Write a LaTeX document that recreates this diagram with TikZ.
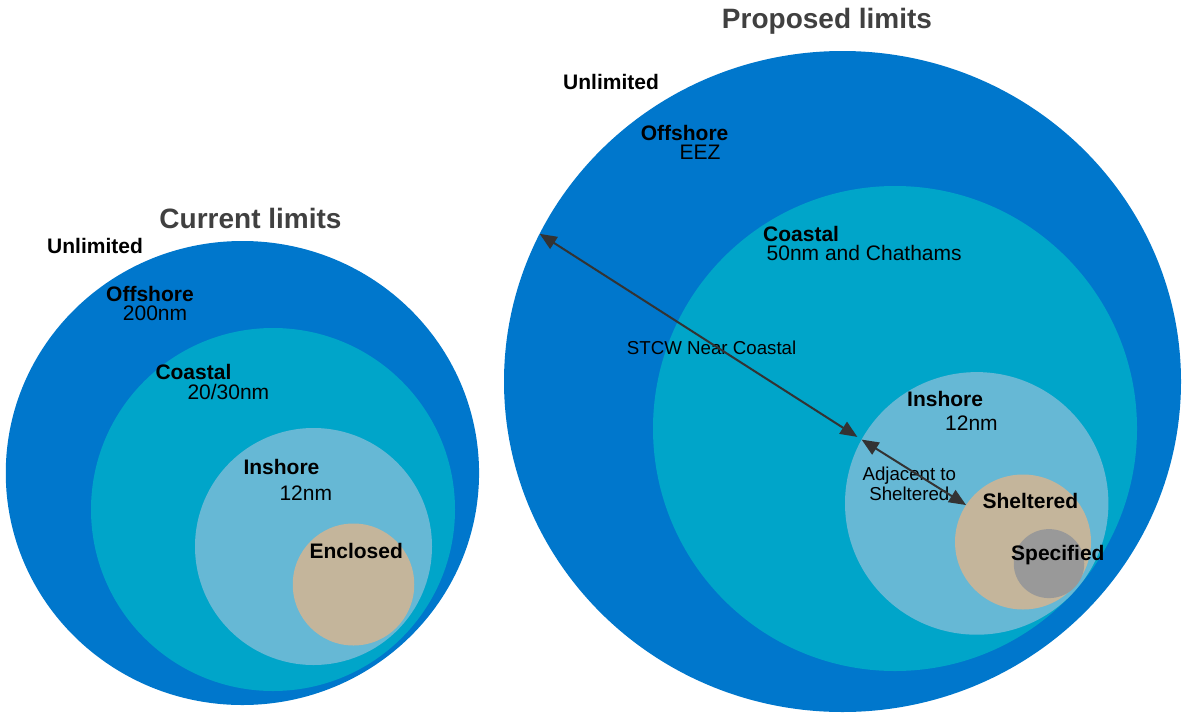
\documentclass[tikz,border=0pt]{standalone}
\usepackage{fontspec}
\setmainfont{Liberation Sans}
\usetikzlibrary{shapes.geometric,arrows.meta}
\definecolor{offblue}{HTML}{0077CC}
\definecolor{coastblue}{HTML}{00A5C9}
\definecolor{inblue}{HTML}{66B8D5}
\definecolor{sandtan}{HTML}{C4B59B}
\definecolor{specgrey}{HTML}{999999}
\definecolor{ink}{HTML}{333333}
\definecolor{titlegrey}{HTML}{404040}
\tikzset{
  zn/.style={ellipse, inner sep=0pt, outer sep=0pt, draw=none},
  bd/.style={inner sep=0pt, anchor=base west, font=\fontsize{21}{21}\selectfont\bfseries},
  rg/.style={inner sep=0pt, anchor=base west, font=\fontsize{21}{21}\selectfont},
  sm/.style={inner sep=0pt, anchor=base west, font=\fontsize{18.7}{20}\selectfont},
  ttl/.style={inner sep=0pt, anchor=base, text=titlegrey, font=\fontsize{28}{28}\selectfont\bfseries},
  lim/.style={line width=2pt, draw=ink, {Triangle[length=17pt,width=14pt]}-{Triangle[length=17pt,width=14pt]}}
}

\begin{document}
\begin{tikzpicture}[x=1pt, y=-1pt]
	\useasboundingbox (0,0) rectangle (1183,715);
	
	% current limits
	\node[zn, fill=offblue, minimum width=473.3pt, minimum height=464pt] (offL) at (242.4,473) {};
	\node[zn, fill=coastblue, minimum width=364pt, minimum height=363pt] (coaL) at (273,509.5) {};
	\node[zn, fill=inblue, minimum width=237pt, minimum height=237pt] (inL) at (313.5,546.5) {};
	\node[zn, fill=sandtan, minimum width=121.5pt, minimum height=122pt] (encL) at (353.5,584.5) {};
	
	\node[ttl] (curT) at (250.5,228) {Current limits};
	\node[bd] (unlL) at (47,253.5) {Unlimited};
	\node[bd] (offLt) at (106,301.5) {Offshore};
	\node[rg] (offLs) at (122.7,320.5) {200nm};
	\node[bd] (coaLt) at (155.3,379.5) {Coastal};
	\node[rg] (coaLs) at (187.3,399.5) {20/30nm};
	\node[bd] (inLt) at (243.3,474) {Inshore};
	\node[rg] (inLs) at (279.3,500.8) {12nm};
	\node[bd] (encLt) at (309.3,558.5) {Enclosed};
	
	% proposed limits
	\node[zn, fill=offblue, minimum width=677pt, minimum height=661pt] (offR) at (842.5,381.5) {};
	\node[zn, fill=coastblue, minimum width=484pt, minimum height=485pt] (coaR) at (895,428.5) {};
	\node[zn, fill=inblue, minimum width=263.4pt, minimum height=262.6pt] (inR) at (976.7,503.4) {};
	\node[zn, fill=sandtan, minimum width=136pt, minimum height=135pt] (shR) at (1023,542) {};
	\node[zn, fill=specgrey, minimum width=70.5pt, minimum height=69pt] (spR) at (1049,563.6) {};
	
	\node[ttl] (propT) at (827,28) {Proposed limits};
	\node[bd] (unlR) at (563,89.5) {Unlimited};
	\node[bd] (offRt) at (640.7,140.3) {Offshore};
	\node[rg] (offRs) at (679.4,159) {EEZ};
	\node[bd] (coaRt) at (763,241.8) {Coastal};
	\node[rg] (coaRs) at (766.5,260.5) {50nm and Chathams};
	\node[sm] (stcw) at (626.7,354.7) {STCW Near Coastal};
	\node[bd] (inRt) at (907,406.5) {Inshore};
	\node[rg] (inRs) at (945,430.5) {12nm};
	\node[sm, anchor=base] (adjA) at (909.3,480.7) {Adjacent to};
	\node[sm, anchor=base] (adjB) at (909.3,500.7) {Sheltered};
	\node[bd] (shRt) at (982.3,508.5) {Sheltered};
	\node[bd] (spRt) at (1011,560.2) {Specified};
	
	\draw[lim, shorten >=5pt] (offR.154.5) -- (inR.151);
	\draw[lim] (inR.151.5) -- (shR.147);
	
\end{tikzpicture}
\end{document}
